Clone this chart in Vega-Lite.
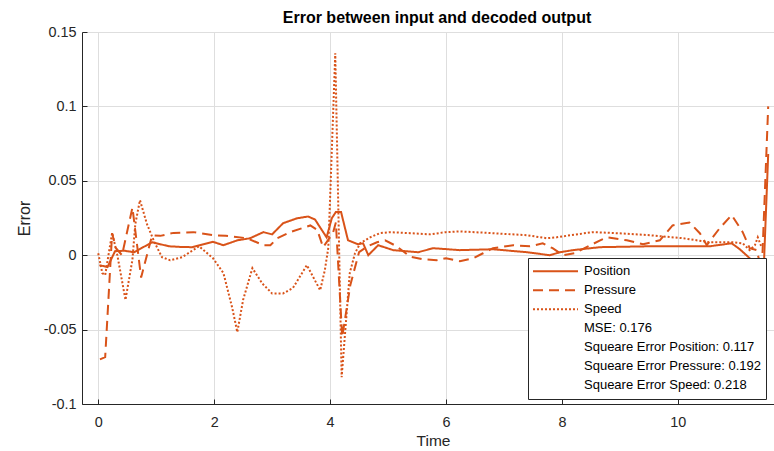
{
  "$schema": "https://vega.github.io/schema/vega-lite/v6.json",
  "width": 692,
  "height": 372,
  "autosize": {"type": "none"},
  "padding": {"left": 82, "top": 32, "right": 0, "bottom": 47},
  "background": "white",
  "config": {"view": {"stroke": null}, "font": "Liberation Sans"},
  "title": {"text": "Error between input and decoded output", "fontSize": 16, "fontWeight": "bold", "color": "#000000", "offset": -2, "dx": 9, "font": "Liberation Sans"},
  "data": {"values": [
    {"series": "Position", "t": 0.02, "e": -0.0067},
    {"series": "Position", "t": 0.16, "e": -0.008},
    {"series": "Position", "t": 0.29, "e": 0.0027},
    {"series": "Position", "t": 0.45, "e": 0.003},
    {"series": "Position", "t": 0.62, "e": 0.002},
    {"series": "Position", "t": 0.93, "e": 0.0087},
    {"series": "Position", "t": 1.22, "e": 0.006},
    {"series": "Position", "t": 1.45, "e": 0.0055},
    {"series": "Position", "t": 1.62, "e": 0.0054},
    {"series": "Position", "t": 1.98, "e": 0.009},
    {"series": "Position", "t": 2.16, "e": 0.0067},
    {"series": "Position", "t": 2.4, "e": 0.01},
    {"series": "Position", "t": 2.62, "e": 0.0114},
    {"series": "Position", "t": 2.85, "e": 0.0155},
    {"series": "Position", "t": 3.0, "e": 0.014},
    {"series": "Position", "t": 3.19, "e": 0.0215},
    {"series": "Position", "t": 3.43, "e": 0.0248},
    {"series": "Position", "t": 3.62, "e": 0.026},
    {"series": "Position", "t": 3.74, "e": 0.024},
    {"series": "Position", "t": 3.94, "e": 0.012},
    {"series": "Position", "t": 4.03, "e": 0.0248},
    {"series": "Position", "t": 4.1, "e": 0.029},
    {"series": "Position", "t": 4.19, "e": 0.029},
    {"series": "Position", "t": 4.31, "e": 0.01},
    {"series": "Position", "t": 4.48, "e": 0.0074},
    {"series": "Position", "t": 4.57, "e": 0.008},
    {"series": "Position", "t": 4.66, "e": 0.0},
    {"series": "Position", "t": 4.83, "e": 0.0067},
    {"series": "Position", "t": 5.09, "e": 0.0034},
    {"series": "Position", "t": 5.52, "e": 0.002},
    {"series": "Position", "t": 5.78, "e": 0.0047},
    {"series": "Position", "t": 6.24, "e": 0.0034},
    {"series": "Position", "t": 6.81, "e": 0.004},
    {"series": "Position", "t": 7.4, "e": 0.002},
    {"series": "Position", "t": 7.79, "e": 0.0},
    {"series": "Position", "t": 7.97, "e": 0.002},
    {"series": "Position", "t": 8.19, "e": 0.0034},
    {"series": "Position", "t": 8.66, "e": 0.0054},
    {"series": "Position", "t": 9.52, "e": 0.006},
    {"series": "Position", "t": 10.55, "e": 0.006},
    {"series": "Position", "t": 10.93, "e": 0.008},
    {"series": "Position", "t": 11.07, "e": 0.004},
    {"series": "Position", "t": 11.24, "e": -0.002},
    {"series": "Position", "t": 11.4, "e": -0.012},
    {"series": "Position", "t": 11.48, "e": -0.012},
    {"series": "Position", "t": 11.56, "e": 0.068},
    {"series": "Pressure", "t": 0.03, "e": -0.07},
    {"series": "Pressure", "t": 0.12, "e": -0.0685},
    {"series": "Pressure", "t": 0.24, "e": 0.0148},
    {"series": "Pressure", "t": 0.3, "e": 0.005},
    {"series": "Pressure", "t": 0.41, "e": 0.0},
    {"series": "Pressure", "t": 0.59, "e": 0.032},
    {"series": "Pressure", "t": 0.74, "e": -0.015},
    {"series": "Pressure", "t": 0.93, "e": 0.0134},
    {"series": "Pressure", "t": 1.07, "e": 0.013},
    {"series": "Pressure", "t": 1.3, "e": 0.015},
    {"series": "Pressure", "t": 1.64, "e": 0.0155},
    {"series": "Pressure", "t": 1.98, "e": 0.0134},
    {"series": "Pressure", "t": 2.2, "e": 0.013},
    {"series": "Pressure", "t": 2.57, "e": 0.0114},
    {"series": "Pressure", "t": 2.85, "e": 0.0067},
    {"series": "Pressure", "t": 2.97, "e": 0.0067},
    {"series": "Pressure", "t": 3.09, "e": 0.0114},
    {"series": "Pressure", "t": 3.31, "e": 0.0155},
    {"series": "Pressure", "t": 3.66, "e": 0.02},
    {"series": "Pressure", "t": 3.78, "e": 0.017},
    {"series": "Pressure", "t": 3.88, "e": 0.0054},
    {"series": "Pressure", "t": 4.05, "e": 0.0148},
    {"series": "Pressure", "t": 4.1, "e": 0.022},
    {"series": "Pressure", "t": 4.21, "e": -0.055},
    {"series": "Pressure", "t": 4.35, "e": -0.02},
    {"series": "Pressure", "t": 4.5, "e": 0.002},
    {"series": "Pressure", "t": 4.65, "e": 0.006},
    {"series": "Pressure", "t": 4.81, "e": 0.0087},
    {"series": "Pressure", "t": 4.95, "e": 0.01},
    {"series": "Pressure", "t": 5.15, "e": 0.006},
    {"series": "Pressure", "t": 5.38, "e": -0.001},
    {"series": "Pressure", "t": 5.6, "e": -0.0027},
    {"series": "Pressure", "t": 5.84, "e": -0.0034},
    {"series": "Pressure", "t": 6.0, "e": -0.002},
    {"series": "Pressure", "t": 6.24, "e": -0.004},
    {"series": "Pressure", "t": 6.47, "e": -0.002},
    {"series": "Pressure", "t": 6.64, "e": 0.0013},
    {"series": "Pressure", "t": 6.81, "e": 0.0047},
    {"series": "Pressure", "t": 7.16, "e": 0.0067},
    {"series": "Pressure", "t": 7.45, "e": 0.006},
    {"series": "Pressure", "t": 7.67, "e": 0.008},
    {"series": "Pressure", "t": 7.84, "e": 0.0047},
    {"series": "Pressure", "t": 8.02, "e": 0.0},
    {"series": "Pressure", "t": 8.22, "e": 0.0013},
    {"series": "Pressure", "t": 8.66, "e": 0.01},
    {"series": "Pressure", "t": 8.78, "e": 0.012},
    {"series": "Pressure", "t": 9.12, "e": 0.01},
    {"series": "Pressure", "t": 9.4, "e": 0.0074},
    {"series": "Pressure", "t": 9.69, "e": 0.01},
    {"series": "Pressure", "t": 9.91, "e": 0.02},
    {"series": "Pressure", "t": 10.2, "e": 0.022},
    {"series": "Pressure", "t": 10.38, "e": 0.0148},
    {"series": "Pressure", "t": 10.5, "e": 0.0067},
    {"series": "Pressure", "t": 10.72, "e": 0.018},
    {"series": "Pressure", "t": 10.93, "e": 0.027},
    {"series": "Pressure", "t": 11.12, "e": 0.0155},
    {"series": "Pressure", "t": 11.24, "e": 0.0047},
    {"series": "Pressure", "t": 11.36, "e": 0.0034},
    {"series": "Pressure", "t": 11.45, "e": -0.01},
    {"series": "Pressure", "t": 11.56, "e": 0.1},
    {"series": "Speed", "t": 0.0, "e": 0.0013},
    {"series": "Speed", "t": 0.07, "e": -0.012},
    {"series": "Speed", "t": 0.12, "e": -0.0134},
    {"series": "Speed", "t": 0.24, "e": 0.015},
    {"series": "Speed", "t": 0.33, "e": 0.0},
    {"series": "Speed", "t": 0.47, "e": -0.03},
    {"series": "Speed", "t": 0.59, "e": -0.003},
    {"series": "Speed", "t": 0.64, "e": 0.021},
    {"series": "Speed", "t": 0.72, "e": 0.037},
    {"series": "Speed", "t": 0.84, "e": 0.021},
    {"series": "Speed", "t": 0.97, "e": 0.0087},
    {"series": "Speed", "t": 1.1, "e": -0.0013},
    {"series": "Speed", "t": 1.24, "e": -0.0034},
    {"series": "Speed", "t": 1.45, "e": -0.0013},
    {"series": "Speed", "t": 1.74, "e": 0.006},
    {"series": "Speed", "t": 1.98, "e": -0.002},
    {"series": "Speed", "t": 2.16, "e": -0.012},
    {"series": "Speed", "t": 2.31, "e": -0.035},
    {"series": "Speed", "t": 2.4, "e": -0.0517},
    {"series": "Speed", "t": 2.5, "e": -0.03},
    {"series": "Speed", "t": 2.66, "e": -0.0087},
    {"series": "Speed", "t": 2.83, "e": -0.019},
    {"series": "Speed", "t": 3.0, "e": -0.0257},
    {"series": "Speed", "t": 3.19, "e": -0.0257},
    {"series": "Speed", "t": 3.36, "e": -0.022},
    {"series": "Speed", "t": 3.6, "e": -0.0067},
    {"series": "Speed", "t": 3.74, "e": -0.017},
    {"series": "Speed", "t": 3.83, "e": -0.0235},
    {"series": "Speed", "t": 3.91, "e": -0.01},
    {"series": "Speed", "t": 3.97, "e": 0.005},
    {"series": "Speed", "t": 4.09, "e": 0.1357},
    {"series": "Speed", "t": 4.2, "e": -0.082},
    {"series": "Speed", "t": 4.34, "e": -0.012},
    {"series": "Speed", "t": 4.43, "e": 0.0013},
    {"series": "Speed", "t": 4.52, "e": 0.008},
    {"series": "Speed", "t": 4.69, "e": 0.012},
    {"series": "Speed", "t": 4.86, "e": 0.0148},
    {"series": "Speed", "t": 5.03, "e": 0.0155},
    {"series": "Speed", "t": 5.38, "e": 0.0148},
    {"series": "Speed", "t": 5.72, "e": 0.014},
    {"series": "Speed", "t": 6.0, "e": 0.0155},
    {"series": "Speed", "t": 6.24, "e": 0.016},
    {"series": "Speed", "t": 6.81, "e": 0.0148},
    {"series": "Speed", "t": 7.4, "e": 0.0134},
    {"series": "Speed", "t": 7.74, "e": 0.0114},
    {"series": "Speed", "t": 7.91, "e": 0.012},
    {"series": "Speed", "t": 8.14, "e": 0.0134},
    {"series": "Speed", "t": 8.53, "e": 0.0155},
    {"series": "Speed", "t": 8.95, "e": 0.0148},
    {"series": "Speed", "t": 9.52, "e": 0.0134},
    {"series": "Speed", "t": 10.09, "e": 0.0114},
    {"series": "Speed", "t": 10.55, "e": 0.0087},
    {"series": "Speed", "t": 10.95, "e": 0.0087},
    {"series": "Speed", "t": 11.12, "e": 0.008},
    {"series": "Speed", "t": 11.24, "e": 0.0034},
    {"series": "Speed", "t": 11.33, "e": 0.0067},
    {"series": "Speed", "t": 11.38, "e": 0.012},
    {"series": "Speed", "t": 11.45, "e": 0.005}
  ]},
  "mark": {"type": "line", "strokeWidth": 2, "clip": true},
  "encoding": {
    "x": {
      "field": "t", "type": "quantitative",
      "scale": {"domain": [-0.28, 11.66], "nice": false, "zero": false},
      "axis": {"title": "Time", "titleX": 351, "values": [0, 2, 4, 6, 8, 10], "labelExpr": "'' + datum.value", "tickSize": -5, "labelPadding": 16, "grid": true, "gridColor": "#dedede", "domainColor": "#262626", "tickColor": "#262626", "labelColor": "#262626", "labelFontSize": 14.4, "titleFontSize": 15.5, "titleFontWeight": "normal", "titleColor": "#262626", "titlePadding": 5, "labelFont": "Liberation Sans", "titleFont": "Liberation Sans"}
    },
    "y": {
      "field": "e", "type": "quantitative",
      "scale": {"domain": [-0.1, 0.15], "nice": false, "zero": false},
      "axis": {"title": "Error", "values": [-0.1, -0.05, 0, 0.05, 0.1, 0.15], "labelExpr": "'' + datum.value", "tickSize": -5, "labelPadding": 11, "grid": true, "gridColor": "#dedede", "domainColor": "#262626", "tickColor": "#262626", "labelColor": "#262626", "labelFontSize": 14.4, "titleFontSize": 16, "titleFontWeight": "normal", "titleColor": "#262626", "titlePadding": 11, "labelFont": "Liberation Sans", "titleFont": "Liberation Sans"}
    },
    "color": {
      "field": "series", "type": "nominal",
      "scale": {
        "domain": ["Position", "Pressure", "Speed", "MSE: 0.176", "Squeare Error Position: 0.117", "Squeare Error Pressure: 0.192", "Squeare Error Speed: 0.218"],
        "range": ["#D95319", "#D95319", "#D95319", "transparent", "transparent", "transparent", "transparent"]
      },
      "legend": {"title": null, "orient": "none", "legendX": 446, "legendY": 226, "symbolType": "stroke", "symbolSize": 2025, "symbolStrokeWidth": 2, "clipHeight": 18.5, "rowPadding": 0, "labelOffset": 5, "labelFontSize": 13, "labelColor": "#000000", "labelFont": "Liberation Sans", "strokeColor": "#262626", "fillColor": "white", "padding": 4, "labelLimit": 400, "symbolOffset": 0}
    },
    "strokeDash": {
      "field": "series", "type": "nominal",
      "scale": {
        "domain": ["Position", "Pressure", "Speed", "MSE: 0.176", "Squeare Error Position: 0.117", "Squeare Error Pressure: 0.192", "Squeare Error Speed: 0.218"],
        "range": [[1, 0], [10, 6], [2, 2], [1, 0], [1, 0], [1, 0], [1, 0]]
      },
      "legend": {"title": null, "orient": "none", "legendX": 446, "legendY": 226, "symbolType": "stroke", "symbolSize": 2025, "symbolStrokeWidth": 2, "clipHeight": 18.5, "rowPadding": 0, "labelOffset": 5, "labelFontSize": 13, "labelColor": "#000000", "labelFont": "Liberation Sans", "strokeColor": "#262626", "fillColor": "white", "padding": 4, "labelLimit": 400, "symbolOffset": 0}
    }
  }
}
